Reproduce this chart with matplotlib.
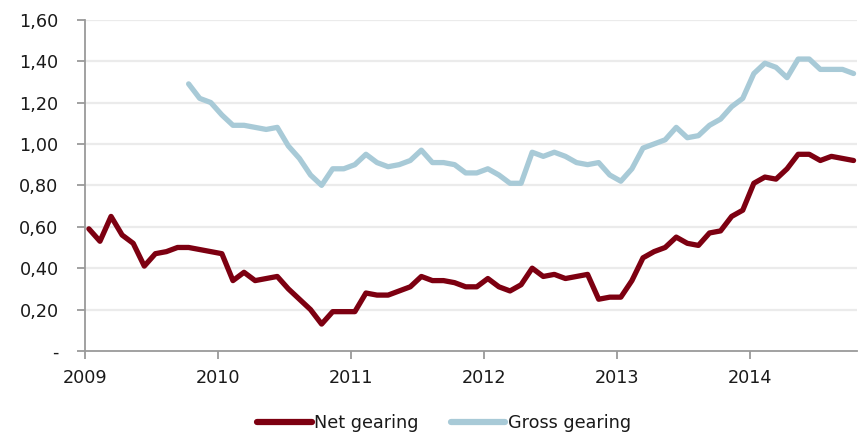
import numpy as np
import matplotlib
matplotlib.use("Agg")
import matplotlib.pyplot as plt
from matplotlib.ticker import FuncFormatter

# Monthly observations, January 2009 to October 2014
start_year = 2009
n_months = 70

net_gearing = [
    0.59, 0.53, 0.65, 0.56, 0.52, 0.41, 0.47, 0.48, 0.50, 0.50, 0.49, 0.48,
    0.47, 0.34, 0.38, 0.34, 0.35, 0.36, 0.30, 0.25, 0.20, 0.13, 0.19, 0.19,
    0.19, 0.28, 0.27, 0.27, 0.29, 0.31, 0.36, 0.34, 0.34, 0.33, 0.31, 0.31,
    0.35, 0.31, 0.29, 0.32, 0.40, 0.36, 0.37, 0.35, 0.36, 0.37, 0.25, 0.26,
    0.26, 0.34, 0.45, 0.48, 0.50, 0.55, 0.52, 0.51, 0.57, 0.58, 0.65, 0.68,
    0.81, 0.84, 0.83, 0.88, 0.95, 0.95, 0.92, 0.94, 0.93, 0.92,
]

gross_gearing = [
    None, None, None, None, None, None, None, None, None, 1.29, 1.22, 1.20,
    1.14, 1.09, 1.09, 1.08, 1.07, 1.08, 0.99, 0.93, 0.85, 0.80, 0.88, 0.88,
    0.90, 0.95, 0.91, 0.89, 0.90, 0.92, 0.97, 0.91, 0.91, 0.90, 0.86, 0.86,
    0.88, 0.85, 0.81, 0.81, 0.96, 0.94, 0.96, 0.94, 0.91, 0.90, 0.91, 0.85,
    0.82, 0.88, 0.98, 1.00, 1.02, 1.08, 1.03, 1.04, 1.09, 1.12, 1.18, 1.22,
    1.34, 1.39, 1.37, 1.32, 1.41, 1.41, 1.36, 1.36, 1.36, 1.34,
]

year_ticks = [2009, 2010, 2011, 2012, 2013, 2014]
y_ticks = [0.0, 0.2, 0.4, 0.6, 0.8, 1.0, 1.2, 1.4, 1.6]

net_color = "#7d0011"
gross_color = "#a8cad7"
axis_color = "#9a9a9a"
grid_color = "#ebebeb"
text_color = "#1a1a1a"

x = start_year + (np.arange(n_months) + 0.35) / 12.0
net = np.array(net_gearing, dtype=float)
gross = np.array([np.nan if v is None else v for v in gross_gearing], dtype=float)

plt.rcParams["font.family"] = ["DejaVu Sans"]
fig = plt.figure(figsize=(8.61, 4.33), dpi=100)
ax = fig.add_axes([85 / 861, 82 / 433, 772 / 861, 331.3 / 433])

for v in y_ticks[1:]:
    ax.axhline(v, color=grid_color, lw=1.6, zorder=0)

ax.plot(x, net, color=net_color, lw=3.8, solid_joinstyle="round",
        solid_capstyle="round", label="Net gearing", zorder=3)
ax.plot(x, gross, color=gross_color, lw=3.8, solid_joinstyle="round",
        solid_capstyle="round", label="Gross gearing", zorder=2)

ax.set_xlim(2009, 2014.805)
ax.set_ylim(0, 1.6)
ax.set_xticks(year_ticks)
ax.set_xticklabels([str(y) for y in year_ticks])
ax.set_yticks(y_ticks)


def fmt(v, pos):
    if abs(v) < 1e-9:
        return "-"
    return f"{v:.2f}".replace(".", ",")


ax.yaxis.set_major_formatter(FuncFormatter(fmt))

for side in ("top", "right"):
    ax.spines[side].set_visible(False)
for side in ("left", "bottom"):
    ax.spines[side].set_color(axis_color)
    ax.spines[side].set_linewidth(1.3)

ax.tick_params(axis="both", colors=axis_color, labelcolor=text_color,
               labelsize=12.7, length=6, width=1.3, direction="out")
ax.tick_params(axis="y", pad=13)
ax.tick_params(axis="x", pad=7)

leg = fig.legend(loc="center", bbox_to_anchor=(444 / 861, 1 - 423 / 433),
                 ncol=2, frameon=False, fontsize=12.7, handlelength=3.1,
                 handletextpad=0.15, columnspacing=1.8)
for line in leg.get_lines():
    line.set_linewidth(4.5)
for t in leg.get_texts():
    t.set_color(text_color)

fig.savefig("out.png", dpi=100)
